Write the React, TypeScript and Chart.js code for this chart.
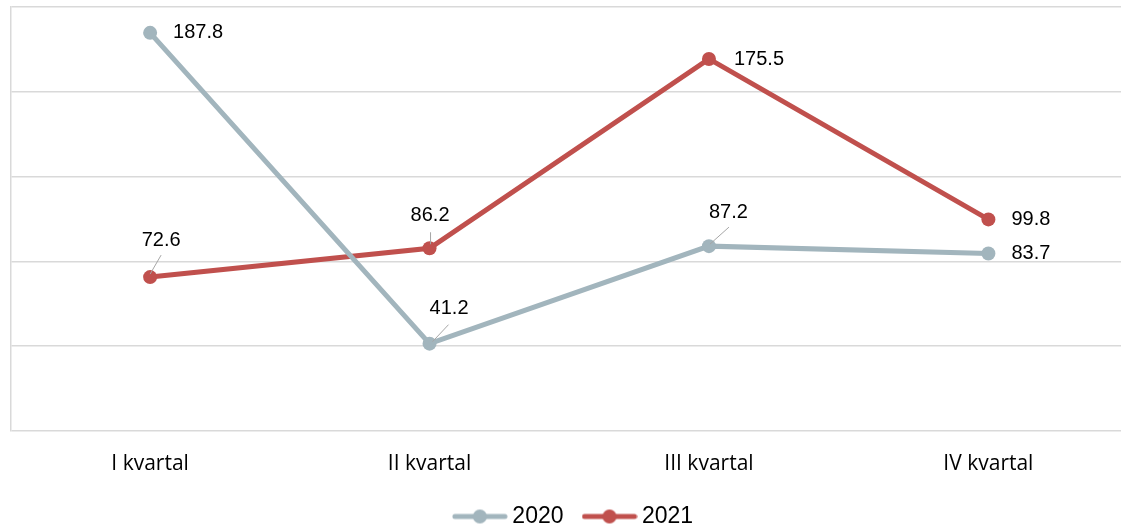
import React, { useEffect, useRef } from "react";
import { Chart, registerables } from "chart.js";

Chart.register(...registerables);

const categories = ["I kvartal", "II kvartal", "III kvartal", "IV kvartal"];
const series2020 = [187.8, 41.2, 87.2, 83.7];
const series2021 = [72.6, 86.2, 175.5, 99.8];
const seriesNames = ["2020", "2021"];
const yMin = 0;
const yMax = 200;
const yStep = 40;

const COLORS = ["#A2B5BD", "#C0504D"];

// label placement styles: [dx, dy, align, leader?]
type LabelStyle = { dx: number; dy: number; align: CanvasTextAlign; leader?: [number, number, number, number] };
const labelStyles: LabelStyle[][] = [
  [
    { dx: 23, dy: 0, align: "left" },
    { dx: 19.5, dy: -35, align: "center", leader: [3, -2, 19, -19] },
    { dx: 19.5, dy: -34, align: "center", leader: [1, -2, 20, -19] },
    { dx: 23, dy: 0, align: "left" },
  ],
  [
    { dx: 11, dy: -37, align: "center", leader: [0, -3, 11, -22] },
    { dx: 0.5, dy: -33, align: "center", leader: [1, -4, 1, -16] },
    { dx: 25, dy: 1, align: "left" },
    { dx: 23, dy: 0, align: "left" },
  ],
];

function makeLegendIcon(color: string): HTMLCanvasElement {
  const c = document.createElement("canvas");
  c.width = 56;
  c.height = 16;
  const ctx = c.getContext("2d")!;
  ctx.strokeStyle = color;
  ctx.lineWidth = 5;
  ctx.lineCap = "round";
  ctx.beginPath();
  ctx.moveTo(3, 8);
  ctx.lineTo(53, 8);
  ctx.stroke();
  ctx.fillStyle = color;
  ctx.beginPath();
  ctx.arc(28, 8, 7, 0, Math.PI * 2);
  ctx.fill();
  return c;
}

const dataLabelPlugin = {
  id: "dataLabels",
  afterDatasetsDraw(chart: any) {
    const ctx = chart.ctx;
    ctx.save();
    chart.data.datasets.forEach((ds: any, di: number) => {
      const meta = chart.getDatasetMeta(di);
      meta.data.forEach((pt: any, i: number) => {
        const st = labelStyles[di][i];
        if (st.leader) {
          const [x1, y1, x2, y2] = st.leader;
          ctx.strokeStyle = "#A6A6A6";
          ctx.lineWidth = 1;
          ctx.beginPath();
          ctx.moveTo(pt.x + x1, pt.y + y1);
          ctx.lineTo(pt.x + x2, pt.y + y2);
          ctx.stroke();
        }
        ctx.fillStyle = "#000000";
        ctx.font = "20px 'Liberation Sans', Arial, sans-serif";
        ctx.textAlign = st.align;
        ctx.textBaseline = "middle";
        ctx.fillText(ds.data[i].toFixed(1), pt.x + st.dx, pt.y + st.dy);
      });
    });
    ctx.restore();
  },
};

export default function App() {
  const ref = useRef<HTMLCanvasElement | null>(null);
  useEffect(() => {
    if (!ref.current) return;
    const icons = COLORS.map(makeLegendIcon);
    const chart = new Chart(ref.current, {
      type: "line",
      data: {
        labels: categories,
        datasets: [series2020, series2021].map((d, i) => ({
          label: seriesNames[i],
          data: d,
          borderColor: COLORS[i],
          backgroundColor: COLORS[i],
          borderWidth: 5,
          pointRadius: 7,
          pointHoverRadius: 7,
          pointBorderWidth: 0,
          pointBackgroundColor: COLORS[i],
          tension: 0,
          clip: false as any,
        })),
      },
      options: {
        responsive: false,
        animation: false,
        events: [],
        layout: { padding: { top: 5, left: 0, right: 0, bottom: 0 } },
        scales: {
          x: {
            offset: true,
            grid: { display: false },
            border: { display: false },
            ticks: {
              color: "#000000",
              font: { family: "'Open Sans', sans-serif", size: 21 },
              padding: 12,
            },
            afterFit: (s: any) => {
              s.height = 49;
            },
          },
          y: {
            min: yMin,
            max: yMax,
            ticks: { display: false, stepSize: yStep },
            grid: { color: "#D9D9D9", lineWidth: 1.5, drawTicks: false },
            border: { display: true, color: "#D9D9D9", width: 1.5 },
            afterFit: (s: any) => {
              s.width = 10.4;
            },
          },
          yRight: {
            position: "right",
            display: true,
            ticks: { display: false },
            grid: { display: false, drawTicks: false },
            border: { display: false },
            afterFit: (s: any) => {
              s.width = 23.9;
            },
          },
        },
        plugins: {
          tooltip: { enabled: false },
          legend: {
            position: "bottom",
            labels: {
              usePointStyle: true,
              pointStyleWidth: 42,
              padding: 25,
              color: "#000000",
              font: { family: "'Liberation Sans', Arial, sans-serif", size: 23 },
              generateLabels: (c: any) =>
                c.data.datasets.map((ds: any, i: number) => ({
                  text: ds.label,
                  pointStyle: icons[i],
                  fillStyle: COLORS[i],
                  strokeStyle: COLORS[i],
                  lineWidth: 0,
                  hidden: false,
                  datasetIndex: i,
                  fontColor: "#000000",
                })),
            },
          },
        },
      } as any,
      plugins: [dataLabelPlugin],
    });
    return () => chart.destroy();
  }, []);
  return (
    <div style={{ position: "fixed", left: 0, top: 0, width: 1121, height: 527, overflow: "hidden", background: "#fff" }}>
      <canvas ref={ref} width={1152} height={538} style={{ display: "block" }} />
    </div>
  );
}
